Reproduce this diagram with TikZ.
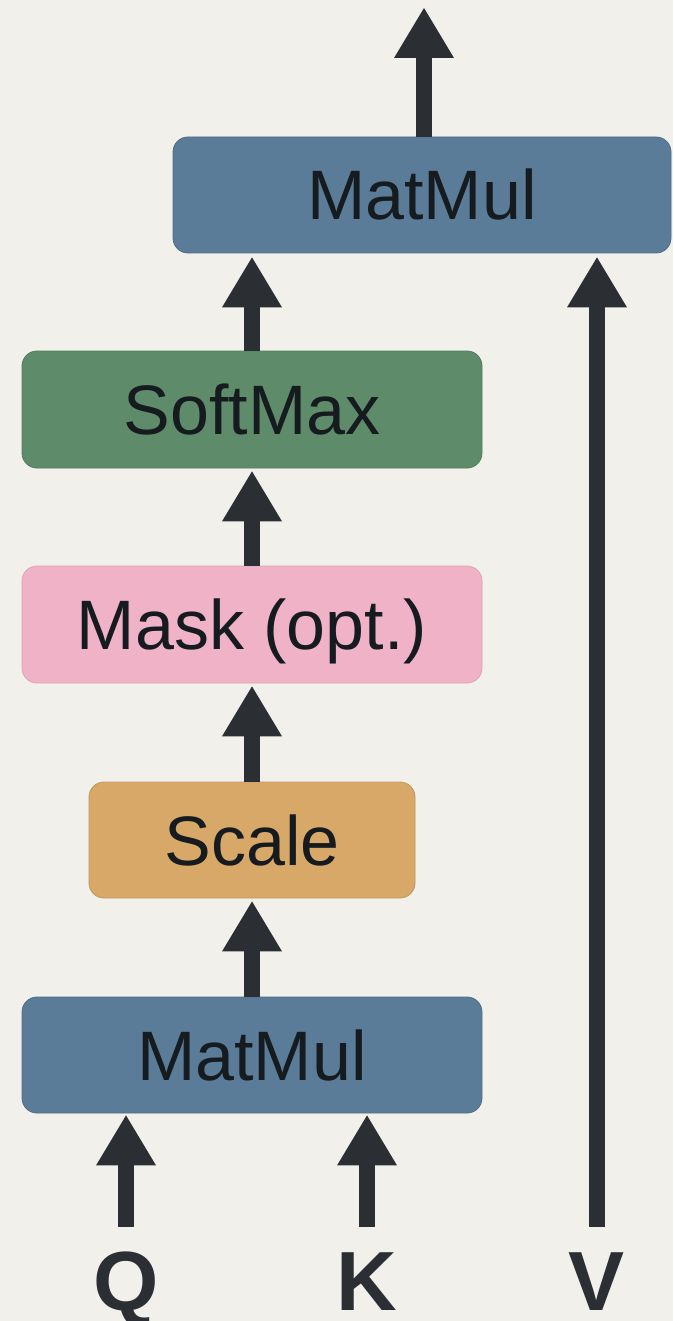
\documentclass[tikz,border=0pt]{standalone}
\usepackage{fontspec}
\setmainfont{Liberation Sans}
\usetikzlibrary{arrows.meta,calc}

\definecolor{bgcol}{RGB}{241,240,235}
\definecolor{matcol}{RGB}{91,124,153}
\definecolor{softcol}{RGB}{94,140,106}
\definecolor{maskcol}{RGB}{240,178,198}
\definecolor{scalecol}{RGB}{216,168,104}
\definecolor{inkcol}{RGB}{43,46,51}
\definecolor{txtcol}{RGB}{22,27,31}

\tikzset{
  opbox/.style={rounded corners=15pt, inner sep=0pt,
    font=\fontsize{70}{84}\selectfont, text=txtcol,
    text height=50pt, text depth=0pt, line width=0.8pt},
  inlabel/.style={inner sep=0pt, font=\fontsize{84}{98}\selectfont\bfseries,
    text=inkcol, text height=60pt, text depth=0pt},
  flow/.style={draw=inkcol, line width=16pt,
    -{Triangle[width=60pt,length=50pt,line width=0pt]}}
}

\begin{document}
\begin{tikzpicture}[x=1pt,y=-1pt]
  % canvas
  \fill[bgcol] (0,0) rectangle (673,1321);
  \useasboundingbox (0,0) rectangle (673,1321);

  % operation blocks
  \node[opbox, fill=matcol, draw=matcol!88!black,
        minimum width=498pt, minimum height=116pt] (mm2) at (422,195) {MatMul};
  \node[opbox, fill=softcol, draw=softcol!88!black,
        minimum width=460pt, minimum height=117pt] (soft) at (252,409.5) {SoftMax};
  \node[opbox, fill=maskcol, draw=maskcol!92!black,
        minimum width=460pt, minimum height=117pt] (mask) at (252,624.5) {Mask (opt.)};
  \node[opbox, fill=scalecol, draw=scalecol!90!black,
        minimum width=326pt, minimum height=116pt] (scale) at (252,840) {Scale};
  \node[opbox, fill=matcol, draw=matcol!88!black,
        minimum width=460pt, minimum height=116pt] (mm1) at (252,1055) {MatMul};

  % inputs
  \node[inlabel] (q) at (126,1280) {Q};
  \node[inlabel] (k) at (367,1280) {K};
  \node[inlabel] (v) at (597,1280) {V};

  % output end
  \coordinate (out) at (424,8);

  % connectors
  \draw[flow] (mm2.north -| out) -- (out);
  \draw[flow, shorten >=4pt] (soft.north) -- (soft.north |- mm2.south);
  \draw[flow, shorten >=3pt] (mask.north) -- (soft.south);
  \draw[flow, shorten >=3pt] (scale.north) -- (mask.south);
  \draw[flow, shorten >=3pt] (mm1.north) -- (scale.south);
  \draw[flow, shorten <=23pt, shorten >=2pt] (q.north) -- (q.north |- mm1.south);
  \draw[flow, shorten <=23pt, shorten >=2pt] (k.north) -- (k.north |- mm1.south);
  \draw[flow, shorten <=23pt, shorten >=4pt] (v.north) -- (v.north |- mm2.south);
\end{tikzpicture}
\end{document}
